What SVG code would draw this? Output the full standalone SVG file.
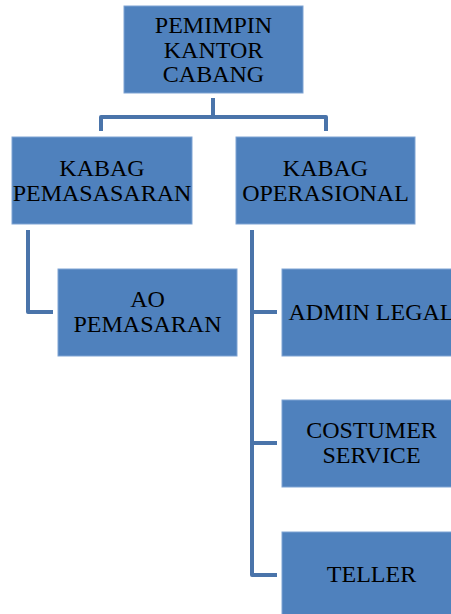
<svg xmlns="http://www.w3.org/2000/svg" width="451" height="614" viewBox="0 0 451 614">
<style>
.box{fill:#4F81BD;stroke:#7FA3D3;stroke-width:1}
.t{font-family:"Liberation Serif","Times New Roman",serif;font-size:24px;fill:#000;text-anchor:middle}
.c{fill:none;stroke:#4A74AA;stroke-width:4;stroke-linejoin:round}
</style>
<rect width="451" height="614" fill="#fff"/>
<g id="connectors">
<path class="c" d="M213,98 V117 M101,131 V117 H326 V131"/>
<path class="c" d="M28,230 V312 H53"/>
<path class="c" d="M252,230 V575 H277 M252,312 H277 M252,443 H277"/>
</g>
<g id="pemimpin">
<rect class="box" x="124" y="6" width="179" height="87"/>
<text class="t" x="213.5" y="33">PEMIMPIN</text>
<text class="t" x="213.5" y="58">KANTOR</text>
<text class="t" x="213.5" y="82">CABANG</text>
</g>
<g id="kabag-pemasaran">
<rect class="box" x="12" y="137" width="180" height="87"/>
<text class="t" x="102" y="176">KABAG</text>
<text class="t" x="102" y="201">PEMASASARAN</text>
</g>
<g id="kabag-operasional">
<rect class="box" x="236" y="137" width="179" height="87"/>
<text class="t" x="325.5" y="176">KABAG</text>
<text class="t" x="325.5" y="201">OPERASIONAL</text>
</g>
<g id="ao-pemasaran">
<rect class="box" x="58" y="269" width="179" height="87"/>
<text class="t" x="147.5" y="307">AO</text>
<text class="t" x="147.5" y="332">PEMASARAN</text>
</g>
<g id="admin-legal">
<rect class="box" x="282" y="269" width="179" height="87"/>
<text class="t" x="371.5" y="320">ADMIN LEGAL</text>
</g>
<g id="costumer-service">
<rect class="box" x="282" y="400" width="179" height="87"/>
<text class="t" x="371.5" y="438">COSTUMER</text>
<text class="t" x="371.5" y="463">SERVICE</text>
</g>
<g id="teller">
<rect class="box" x="282" y="532" width="179" height="87"/>
<text class="t" x="371.5" y="582">TELLER</text>
</g>
</svg>
